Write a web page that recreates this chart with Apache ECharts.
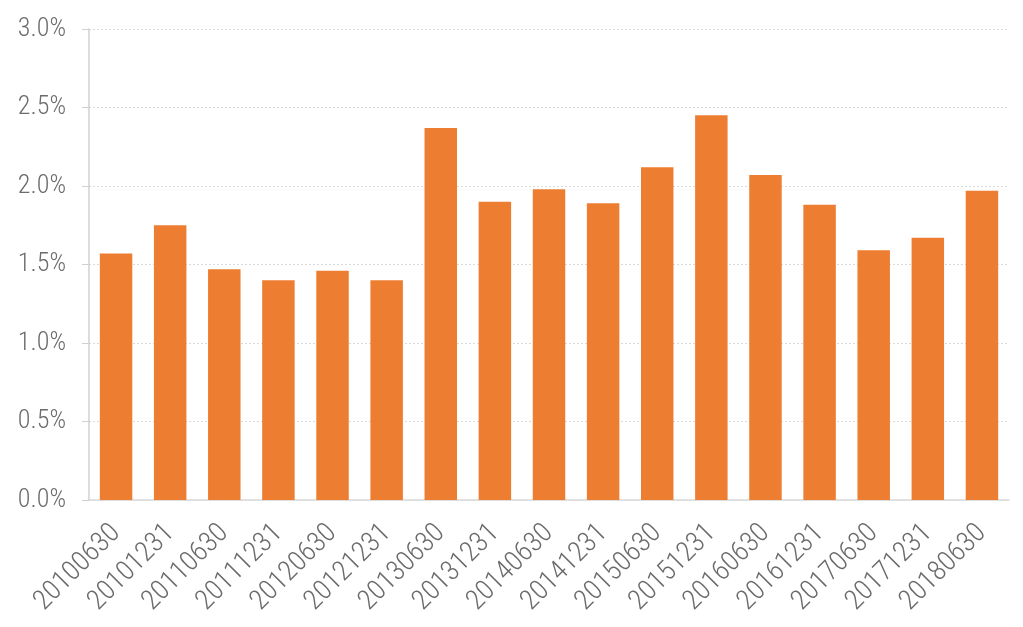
<!DOCTYPE html>
<html><head><meta charset="utf-8">
<script src="https://cdn.jsdelivr.net/npm/echarts@6/dist/echarts.min.js"></script>
<style>html,body{margin:0;padding:0;background:#fff}#c{width:1023px;height:627px}</style>
</head><body><div id="c"></div>
<script>
var categories = ['20100630','20101231','20110630','20111231','20120630','20121231','20130630','20131231','20140630','20141231','20150630','20151231','20160630','20161231','20170630','20171231','20180630'];
var values = [1.57,1.75,1.47,1.40,1.46,1.40,2.37,1.90,1.98,1.89,2.12,2.45,2.07,1.88,1.59,1.67,1.97];
var yTicks = [0, 0.5, 1.0, 1.5, 2.0, 2.5, 3.0];
var chart = echarts.init(document.getElementById('c'));
var font = '"Roboto Condensed", "DejaVu Sans Condensed", sans-serif';
chart.setOption({
  animation:false,
  grid:{left:89,right:14,top:29,bottom:127,containLabel:false},
  xAxis:{type:'category',data:categories,
    axisLine:{lineStyle:{color:'#d9d9d9',width:1.5}},
    axisTick:{show:false},
    axisLabel:{rotate:45,interval:0,color:'#6b6b6b',fontSize:28,fontWeight:300,fontFamily:font,margin:29}},
  yAxis:{type:'value',min:yTicks[0],max:yTicks[yTicks.length-1],interval:yTicks[1]-yTicks[0],
    axisLine:{show:true,lineStyle:{color:'#d0d0d0',width:1.5}},
    axisTick:{show:true,length:7,lineStyle:{color:'#d0d0d0'}},
    splitLine:{lineStyle:{color:'#d9d9d9',type:[2,2]}},
    axisLabel:{color:'#6b6b6b',fontSize:26,fontWeight:300,fontFamily:font,margin:23,formatter:function(v){return v.toFixed(1)+'%';}}},
  series:[{type:'bar',data:values,barWidth:'60%',itemStyle:{color:'#ED7D31'}}]
});
</script></body></html>
